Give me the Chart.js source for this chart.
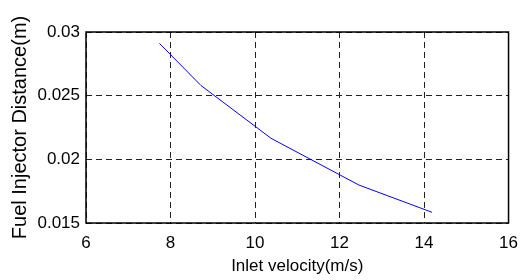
<!DOCTYPE html>
<html>
<head>
<meta charset="utf-8">
<script src="https://cdn.jsdelivr.net/npm/chart.js@4/dist/chart.umd.min.js"></script>
<style>
  body { margin: 0; background: #fff; }
  #wrap { width: 528px; height: 280px; }
</style>
</head>
<body>
<div id="wrap"><canvas id="CanvasChart" width="528" height="280"></canvas></div>
<script>
// values
let velocity = [7.74, 8.72, 10.38, 12.46, 14.19];
let distance = [0.0291, 0.0258, 0.02165, 0.01798, 0.01584];
let xTicks = [6, 8, 10, 12, 14, 16];
let yTicks = [0.015, 0.02, 0.025, 0.03];

let points = velocity.map((v, i) => ({ x: v, y: distance[i] }));
let font = "'Liberation Sans', Arial, sans-serif";

// solid black box round the plot (grid lines are dashed)
const boxPlugin = {
  id: 'box',
  afterDraw(chart) {
    const a = chart.chartArea, c = chart.ctx;
    c.save();
    c.strokeStyle = '#000';
    c.lineWidth = 1.5;
    c.setLineDash([]);
    c.strokeRect(a.left, a.top, a.right - a.left, a.bottom - a.top);
    c.restore();
  }
};

const data1 = {
  datasets: [{
    label: 'distance',
    data: points,
    showLine: true,
    borderColor: '#0000ff',
    borderWidth: 1,
    pointRadius: 0,
    fill: false,
    tension: 0
  }]
};

const config1 = {
  type: 'scatter',
  data: data1,
  plugins: [boxPlugin],
  options: {
    responsive: false,
    animation: false,
    layout: { padding: { top: 32, right: 10, left: 0, bottom: 0 } },
    plugins: { legend: { display: false }, tooltip: { enabled: false } },
    scales: {
      x: {
        type: 'linear',
        min: xTicks[0],
        max: xTicks[xTicks.length - 1],
        afterFit: s => { s.height = 57; },
        afterBuildTicks: s => { s.ticks = xTicks.map(v => ({ value: v })); },
        ticks: { color: '#000', font: { family: font, size: 17 }, padding: 10, maxRotation: 0 },
        grid: { color: '#222', lineWidth: 1, drawTicks: false },
        border: { display: false, dash: [6, 4] },
        title: { display: true, text: 'Inlet velocity(m/s)', color: '#000',
                 font: { family: font, size: 17 }, padding: { top: 0, bottom: 3 } }
      },
      y: {
        type: 'linear',
        min: yTicks[0],
        max: yTicks[yTicks.length - 1],
        afterFit: s => { s.width = 86; },
        afterBuildTicks: s => { s.ticks = yTicks.map(v => ({ value: v })); },
        ticks: { color: '#000', font: { family: font, size: 17 }, padding: 6,
                 callback: v => String(parseFloat(v.toFixed(4))) },
        grid: { color: '#222', lineWidth: 1, drawTicks: false },
        border: { display: false, dash: [6, 4] },
        title: { display: true, text: 'Fuel Injector Distance(m)', color: '#000',
                 font: { family: font, size: 20 }, padding: { top: 8, bottom: 0 } }
      }
    }
  }
};

let ctx1 = document.getElementById("CanvasChart").getContext("2d");
var myChart1 = new Chart(ctx1, config1);
</script>
</body>
</html>
